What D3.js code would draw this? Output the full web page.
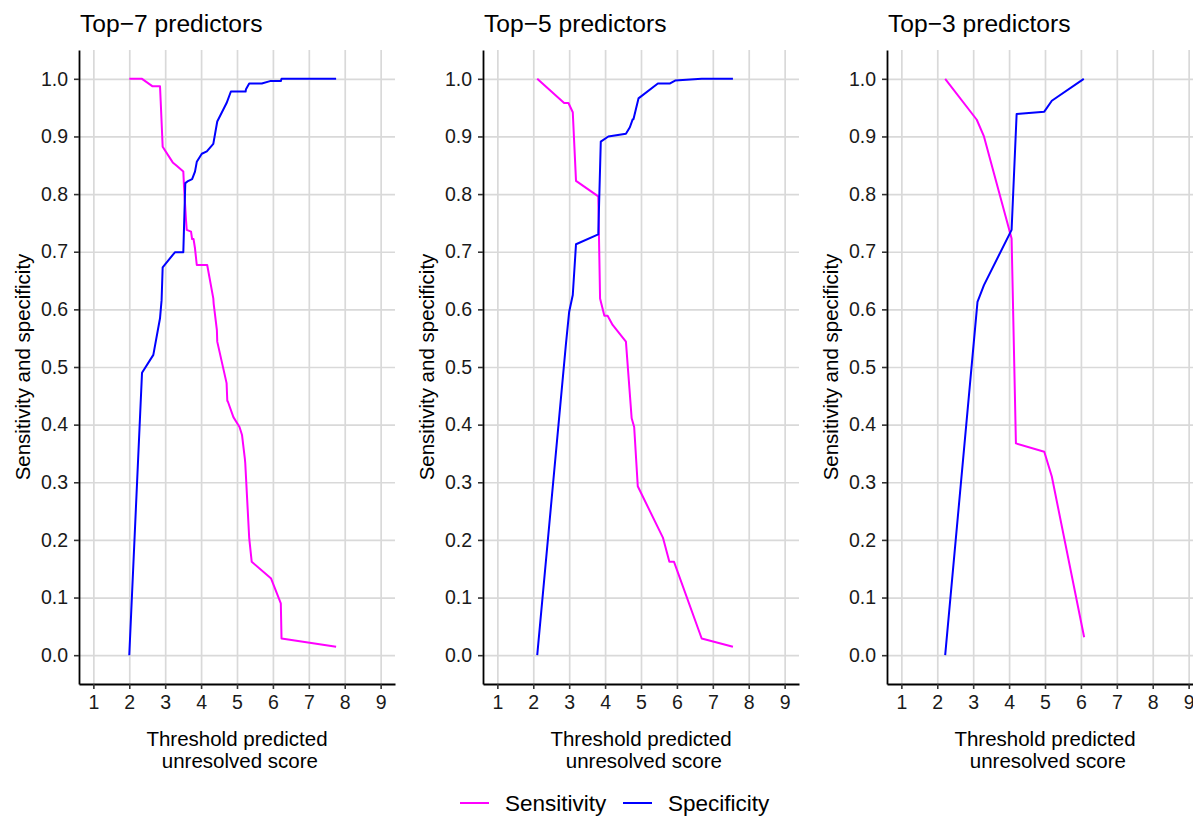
<!DOCTYPE html>
<html>
<head>
<meta charset="utf-8">
<script src="https://cdn.jsdelivr.net/npm/d3@7"></script>
<style>
  html, body { margin: 0; padding: 0; background: #fff; }
  svg { display: block; font-family: "Liberation Sans", Arial, sans-serif; }
</style>
</head>
<body>
<svg id="chart" width="1193" height="816"></svg>
<script>
// ---------- data ----------
const panelTitles = ["Top\u22127 predictors", "Top\u22125 predictors", "Top\u22123 predictors"];
const xTicks = [1, 2, 3, 4, 5, 6, 7, 8, 9];
const yTicks = [0, 0.1, 0.2, 0.3, 0.4, 0.5, 0.6, 0.7, 0.8, 0.9, 1.0];
const seriesNames = ["Sensitivity", "Specificity"];

// Top-7
const top7SensX = [2.0, 2.355, 2.65, 2.856, 2.875, 2.93, 3.21, 3.32, 3.505, 3.525, 3.58, 3.6, 3.72, 3.75, 3.79, 3.83, 3.88, 4.17, 4.34, 4.35, 4.44, 4.45, 4.71, 4.73, 4.74, 4.9, 5.07, 5.14, 5.22, 5.23, 5.34, 5.41, 5.95, 6.22, 6.24, 7.76];
const top7SensY = [1.0, 1.0, 0.987, 0.987, 0.961, 0.882, 0.855, 0.849, 0.839, 0.813, 0.755, 0.738, 0.735, 0.722, 0.722, 0.706, 0.677, 0.677, 0.619, 0.61, 0.564, 0.544, 0.472, 0.441, 0.441, 0.413, 0.396, 0.382, 0.34, 0.333, 0.203, 0.162, 0.133, 0.09, 0.029, 0.0145];
const top7SpecX = [2.0, 2.355, 2.67, 2.856, 2.9, 2.93, 3.27, 3.505, 3.56, 3.62, 3.75, 3.83, 3.88, 4.02, 4.16, 4.34, 4.45, 4.71, 4.83, 5.24, 5.25, 5.34, 5.69, 5.92, 6.22, 6.24, 7.76];
const top7SpecY = [0.0, 0.49, 0.521, 0.5845, 0.616, 0.673, 0.699, 0.699, 0.819, 0.822, 0.826, 0.839, 0.856, 0.87, 0.874, 0.887, 0.926, 0.958, 0.978, 0.978, 0.982, 0.992, 0.992, 0.996, 0.996, 1.0, 1.0];

// Top-5
const top5SensX = [2.11, 2.86, 2.98, 3.1, 3.19, 3.81, 3.86, 3.98, 4.07, 4.21, 4.58, 4.74, 4.81, 4.91, 5.61, 5.79, 5.92, 6.69, 7.56];
const top5SensY = [1.0, 0.958, 0.958, 0.942, 0.823, 0.796, 0.619, 0.589, 0.589, 0.573, 0.544, 0.411, 0.396, 0.293, 0.204, 0.162, 0.162, 0.029, 0.0145];
const top5SpecX = [2.11, 2.91, 3.0, 3.1, 3.19, 3.81, 3.88, 4.09, 4.58, 4.69, 4.77, 4.79, 4.93, 5.47, 5.81, 5.95, 6.69, 7.56];
const top5SpecY = [0.0, 0.54, 0.596, 0.625, 0.713, 0.730, 0.891, 0.9, 0.9045, 0.916, 0.93, 0.93, 0.966, 0.992, 0.992, 0.997, 1.0, 1.0];

// Top-3
const top3SensX = [2.22, 3.1, 3.3, 4.07, 4.19, 4.98, 5.19, 6.09];
const top3SensY = [1.0, 0.929, 0.9, 0.723, 0.3675, 0.353, 0.31, 0.031];
const top3SpecX = [2.22, 3.12, 3.3, 4.07, 4.21, 4.98, 5.19, 6.08];
const top3SpecY = [0.0, 0.613, 0.642, 0.738, 0.939, 0.943, 0.962, 1.0];

const panelSens = [[top7SensX, top7SensY], [top5SensX, top5SensY], [top3SensX, top3SensY]];
const panelSpec = [[top7SpecX, top7SpecY], [top5SpecX, top5SpecY], [top3SpecX, top3SpecY]];

// ---------- layout ----------
const colors = { Sensitivity: "#FF00FF", Specificity: "#0000FF" };
const panelLefts = [79, 483, 887];
const panelW = 316, plotTop = 50, plotBottom = 684;
const gridColor = "#d9d9d9";

const svg = d3.select("#chart");

function zip(xs, ys) { return xs.map((x, i) => [x, ys[i]]); }

panelTitles.forEach((title, p) => {
  const left = panelLefts[p];
  const x = d3.scaleLinear().domain([0.6, 9.4]).range([left, left + panelW]);
  const y = d3.scaleLinear().domain([-0.05, 1.05]).range([plotBottom, plotTop]);
  const g = svg.append("g");

  // grid
  const gx = g.append("g").attr("transform", `translate(0,${plotBottom})`)
    .call(d3.axisBottom(x).tickValues(xTicks).tickSize(-(plotBottom - plotTop)).tickFormat(""));
  gx.select(".domain").remove();
  gx.selectAll("line").attr("stroke", gridColor).attr("stroke-width", 1.7);
  const gy = g.append("g").attr("transform", `translate(${left},0)`)
    .call(d3.axisLeft(y).tickValues(yTicks).tickSize(-panelW).tickFormat(""));
  gy.select(".domain").remove();
  gy.selectAll("line").attr("stroke", gridColor).attr("stroke-width", 1.7);

  // lines
  const line = d3.line().x(d => x(d[0])).y(d => y(d[1]));
  g.append("path").datum(zip(panelSens[p][0], panelSens[p][1]))
    .attr("d", line).attr("fill", "none").attr("stroke", colors.Sensitivity)
    .attr("stroke-width", 2).attr("stroke-linejoin", "round");
  g.append("path").datum(zip(panelSpec[p][0], panelSpec[p][1]))
    .attr("d", line).attr("fill", "none").attr("stroke", colors.Specificity)
    .attr("stroke-width", 2).attr("stroke-linejoin", "round");

  // axes
  const ax = g.append("g").attr("transform", `translate(0,${plotBottom})`)
    .call(d3.axisBottom(x).tickValues(xTicks).tickSize(5).tickSizeOuter(0).tickPadding(6).tickFormat(d3.format("d")));
  ax.select(".domain").attr("stroke", "#000").attr("stroke-width", 1.8);
  ax.selectAll(".tick line").attr("stroke", "#333").attr("stroke-width", 1.6);
  ax.selectAll("text").attr("font-size", 19.5).attr("fill", "#1a1a1a")
    .attr("font-family", "Liberation Sans, Arial, sans-serif");

  const ay = g.append("g").attr("transform", `translate(${left},0)`)
    .call(d3.axisLeft(y).tickValues(yTicks).tickSize(5).tickSizeOuter(0).tickPadding(6).tickFormat(d3.format(".1f")));
  ay.select(".domain").attr("stroke", "#000").attr("stroke-width", 1.8);
  ay.selectAll(".tick line").attr("stroke", "#333").attr("stroke-width", 1.6);
  ay.selectAll("text").attr("font-size", 19.5).attr("fill", "#1a1a1a")
    .attr("font-family", "Liberation Sans, Arial, sans-serif");

  // panel title
  g.append("text").attr("x", left + 1).attr("y", 32)
    .attr("font-size", 24.6).attr("fill", "#000").text(title);

  // x title
  const cx = left + panelW / 2;
  const xt = g.append("text").attr("x", cx).attr("text-anchor", "middle")
    .attr("font-size", 20.5).attr("fill", "#000").style("white-space", "pre");
  xt.append("tspan").attr("x", cx).attr("y", 746).text("Threshold predicted");
  xt.append("tspan").attr("x", cx).attr("y", 768).text(" unresolved score");

  // y title
  g.append("text")
    .attr("transform", `translate(${left - 49},${(plotTop + plotBottom) / 2}) rotate(-90)`)
    .attr("text-anchor", "middle").attr("font-size", 20.5).attr("fill", "#000")
    .text("Sensitivity and specificity");
});

// legend
const legend = svg.append("g");
const legendItems = [
  { name: seriesNames[0], x0: 460 },
  { name: seriesNames[1], x0: 623 }
];
legendItems.forEach(it => {
  legend.append("line").attr("x1", it.x0).attr("x2", it.x0 + 29)
    .attr("y1", 803).attr("y2", 803).attr("stroke", colors[it.name]).attr("stroke-width", 2);
  legend.append("text").attr("x", it.x0 + 45).attr("y", 811)
    .attr("font-size", 22.5).attr("fill", "#000").text(it.name);
});
</script>
</body>
</html>
